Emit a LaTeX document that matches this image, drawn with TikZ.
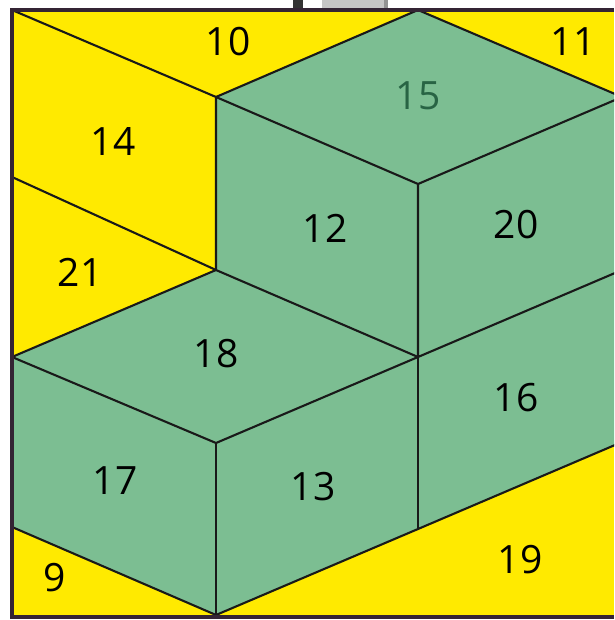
\documentclass[tikz,border=0pt]{standalone}
\usepackage{fontspec}
\setmainfont{Open Sans}
\begin{document}
\begin{tikzpicture}[x=1pt,y=-1pt,
  edge/.style={line width=2.1pt,draw=black!90,line cap=round,line join=round},
  lab/.style={font=\fontsize{39}{42}\selectfont,text=black,inner sep=0pt},
  face/.style={fill=facegreen}]
\definecolor{facegreen}{RGB}{124,190,146}
\definecolor{ylw}{RGB}{255,234,0}
\definecolor{framec}{RGB}{52,36,52}
\definecolor{lab15}{RGB}{40,100,68}
\useasboundingbox (0,0) rectangle (614,620);
\fill[white] (0,0) rectangle (614,620);
\begin{scope}
\clip (0,0) rectangle (614,620);
% top clip object
\fill[gray!45] (322,-4) rectangle (387,9);
\fill[gray!85] (384,-4) rectangle (388,9);
\fill[black!80] (293,0) rectangle (303,9);
% background
\fill[ylw] (12,10) rectangle (614,617);
% coordinates
\coordinate (A) at (418,10);
\coordinate (B) at (216,97);
\coordinate (C) at (622,97);
\coordinate (D) at (418,184);
\coordinate (E) at (216,270);
\coordinate (F) at (418,357);
\coordinate (G) at (622,270);
\coordinate (H) at (12,357);
\coordinate (I) at (216,443);
\coordinate (J) at (418,529);
\coordinate (K) at (622,442);
\coordinate (L) at (12,527);
\coordinate (M) at (216,615);
\coordinate (P) at (12,10);
\coordinate (Q) at (12,177);
% green region
\fill[facegreen] (A) -- (C) -- (K) -- (J) -- (M) -- (L) -- (H) -- (E) -- (B) -- cycle;
% edges
\draw[edge] (P) -- (B);
\draw[edge] (Q) -- (E);
\draw[edge] (A) -- (B);
\draw[edge] (A) -- (C);
\draw[edge] (B) -- (D) -- (C);
\draw[edge] (B) -- (E) -- (F);
\draw[edge] (D) -- (F) -- (G);
\draw[edge] (E) -- (H) -- (I) -- (F);
\draw[edge] (I) -- (M);
\draw[edge] (F) -- (J);
\draw[edge] (L) -- (M) -- (J) -- (K);
% frame
\draw[line width=3.5pt,framec] (614,10) -- (12,10) -- (12,617) -- (614,617);
\end{scope}
% labels
\node[lab] (n10) at (228,42) {10};
\node[lab] (n11) at (573,42) {11};
\node[lab,text=lab15] (n15) at (418,96) {15};
\node[lab] (n14) at (113,142) {14};
\node[lab] (n12) at (325,228) {12};
\node[lab] (n20) at (516,225) {20};
\node[lab] (n21) at (80,272) {21};
\node[lab] (n18) at (216,354) {18};
\node[lab] (n16) at (516,398) {16};
\node[lab] (n17) at (115,481) {17};
\node[lab] (n13) at (313,487) {13};
\node[lab] (n19) at (520,560) {19};
\node[lab] (n9) at (55,578) {9};
\end{tikzpicture}
\end{document}
